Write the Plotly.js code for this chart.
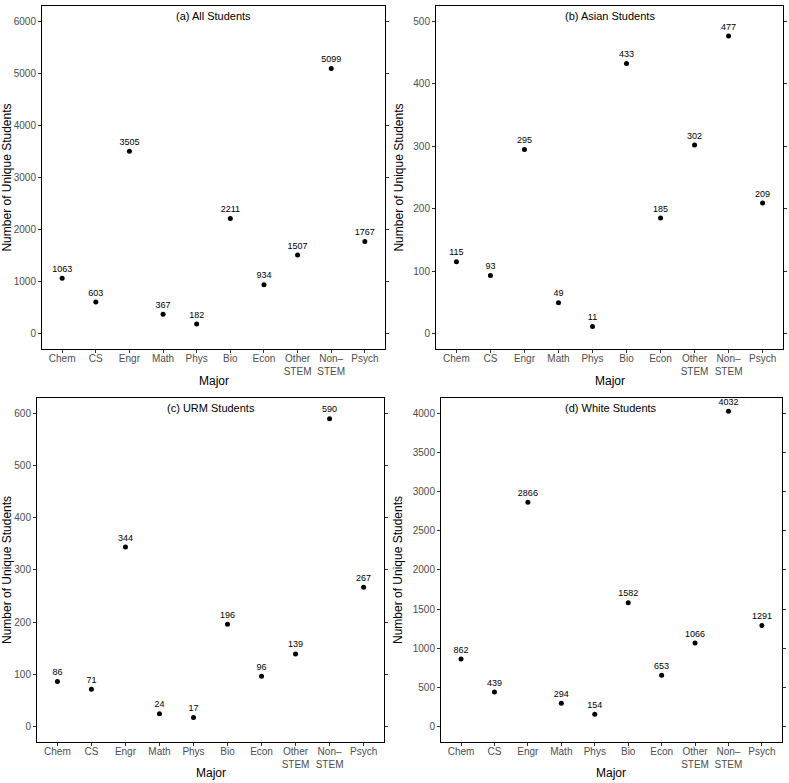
<!DOCTYPE html>
<html>
<head>
<meta charset="utf-8">
<script src="https://cdn.plot.ly/plotly-3.0.1.min.js"></script>
<style>
  html, body { margin: 0; padding: 0; background: #ffffff; }
  #chart { width: 789px; height: 783px; }
</style>
</head>
<body>
<div id="chart"></div>
<script>
  "use strict";

  var MAJORS = ["Chem", "CS", "Engr", "Math", "Phys", "Bio", "Econ", "Other STEM", "Non-STEM", "Psych"];
  var MAJOR_LABELS = ["Chem", "CS", "Engr", "Math", "Phys", "Bio", "Econ", "Other<br>STEM", "Non\u2013<br>STEM", "Psych"];

  var ALL_STUDENTS = [1063, 603, 3505, 367, 182, 2211, 934, 1507, 5099, 1767];
  var ASIAN_STUDENTS = [115, 93, 295, 49, 11, 433, 185, 302, 477, 209];
  var URM_STUDENTS = [86, 71, 344, 24, 17, 196, 96, 139, 590, 267];
  var WHITE_STUDENTS = [862, 439, 2866, 294, 154, 1582, 653, 1066, 4032, 1291];

  var PANEL_TITLES = ["(a) All Students", "(b) Asian Students", "(c) URM Students", "(d) White Students"];

  var FONT = "Liberation Sans, Arial, Helvetica, sans-serif";

  var panels = [
    { values: ALL_STUDENTS,   title: PANEL_TITLES[0], xd: [0.0532, 0.4880], yd: [0.5543, 0.9923], ymax: 6000, dtick: 1000, majorY: 0.5140 },
    { values: ASIAN_STUDENTS, title: PANEL_TITLES[1], xd: [0.5526, 0.9924], yd: [0.5543, 0.9923], ymax: 500,  dtick: 100,  majorY: 0.5140 },
    { values: URM_STUDENTS,   title: PANEL_TITLES[2], xd: [0.0469, 0.4867], yd: [0.0524, 0.4917], ymax: 600,  dtick: 100,  majorY: 0.0130 },
    { values: WHITE_STUDENTS, title: PANEL_TITLES[3], xd: [0.5589, 0.9911], yd: [0.0524, 0.4917], ymax: 4000, dtick: 500,  majorY: 0.0130 }
  ];

  var traces = [];
  var layout = {
    width: 789,
    height: 783,
    margin: { t: 0, r: 0, b: 0, l: 0 },
    paper_bgcolor: "#ffffff",
    plot_bgcolor: "#ffffff",
    font: { family: FONT, color: "#000000", size: 11 },
    showlegend: false,
    annotations: []
  };

  panels.forEach(function (p, i) {
    var n = i + 1;
    var xName = "xaxis" + (n === 1 ? "" : n);
    var yName = "yaxis" + (n === 1 ? "" : n);
    var xRef = "x" + (n === 1 ? "" : n);
    var yRef = "y" + (n === 1 ? "" : n);
    var pad = p.ymax * 0.05;

    traces.push({
      type: "scatter",
      mode: "markers+text",
      x: MAJORS,
      y: p.values,
      text: p.values.map(String),
      textposition: "top center",
      textfont: { family: FONT, size: 9, color: "#000000" },
      marker: { color: "#000000", size: 5 },
      xaxis: xRef,
      yaxis: yRef,
      hoverinfo: "x+y",
      cliponaxis: false
    });

    layout[xName] = {
      domain: p.xd,
      anchor: yRef,
      type: "category",
      categoryorder: "array",
      categoryarray: MAJORS,
      tickvals: MAJORS,
      ticktext: MAJOR_LABELS,
      range: [-0.6, 9.6],
      showgrid: false,
      zeroline: false,
      showline: true,
      linecolor: "#000000",
      linewidth: 1,
      mirror: true,
      ticks: "outside",
      ticklen: 3,
      tickcolor: "#333333",
      ticklabelstandoff: -3,
      tickfont: { family: FONT, size: 10, color: "#4d4d4d" },
      fixedrange: true
    };

    layout[yName] = {
      domain: p.yd,
      anchor: xRef,
      range: [-pad, p.ymax + pad],
      dtick: p.dtick,
      tick0: 0,
      showgrid: false,
      zeroline: false,
      showline: true,
      linecolor: "#000000",
      linewidth: 1,
      mirror: "ticks",
      ticks: "outside",
      ticklen: 3,
      tickcolor: "#333333",
      tickfont: { family: FONT, size: 10, color: "#4d4d4d" },
      title: { text: "Number of Unique Students", font: { family: FONT, size: 12, color: "#000000" }, standoff: 7 },
      fixedrange: true
    };

    layout.annotations.push({
      xref: xRef + " domain",
      yref: yRef + " domain",
      x: 0.5,
      y: 0.995,
      xanchor: "center",
      yanchor: "top",
      showarrow: false,
      text: p.title,
      font: { family: FONT, size: 11, color: "#000000" }
    });

    layout.annotations.push({
      xref: xRef + " domain",
      yref: "paper",
      x: 0.5,
      y: p.majorY,
      xanchor: "center",
      yanchor: "middle",
      showarrow: false,
      text: "Major",
      font: { family: FONT, size: 12, color: "#000000" }
    });
  });

  Plotly.newPlot("chart", traces, layout, { displayModeBar: false, staticPlot: true });
</script>
</body>
</html>
